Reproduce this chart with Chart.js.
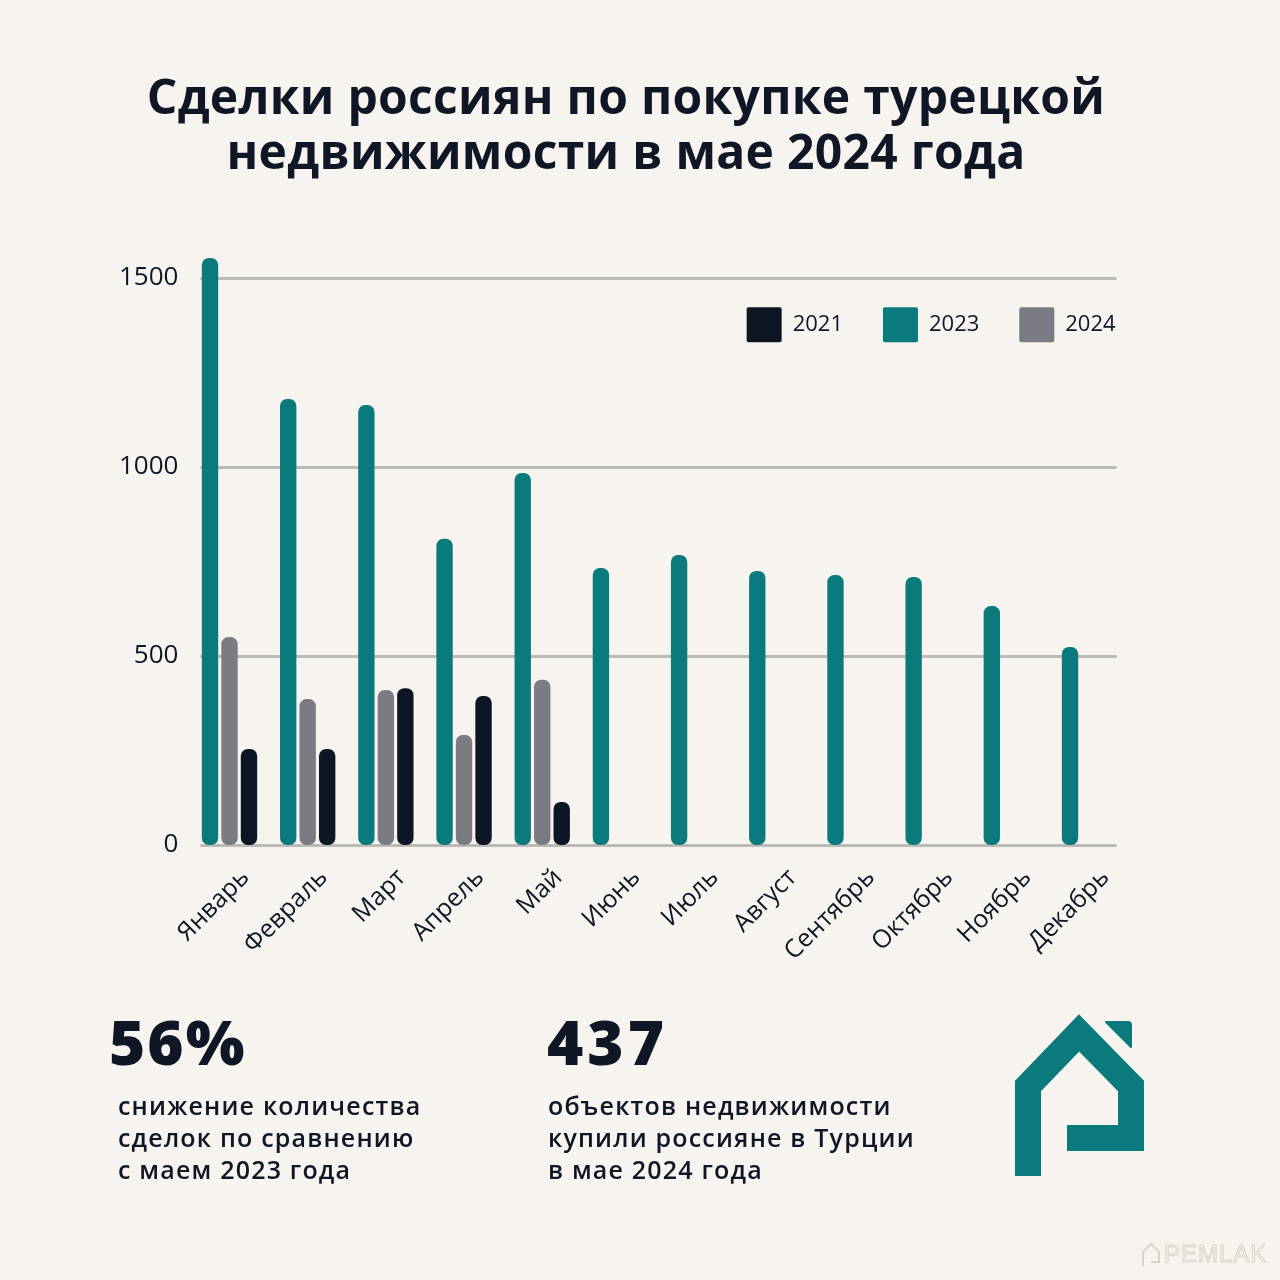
<!DOCTYPE html>
<html>
<head>
<meta charset="utf-8">
<script src="https://cdn.jsdelivr.net/npm/chart.js@4/dist/chart.umd.min.js"></script>
<style>
html,body{margin:0;padding:0;background:#f7f3ee;}
#page{position:relative;width:1280px;height:1280px;background:#f7f3ee;overflow:hidden;font-family:"Open Sans",sans-serif;color:#0f1626;}
#chartBox{position:absolute;left:0;top:0;width:1280px;height:1280px;}
.title{position:absolute;left:0;top:68px;width:1252px;text-align:center;font-weight:700;font-size:48px;line-height:55px;letter-spacing:0.3px;}
.big{position:absolute;font-weight:800;font-size:62px;line-height:62px;top:1010px;}
.body{position:absolute;font-weight:600;font-size:25px;line-height:32px;top:1089px;letter-spacing:1.2px;}
#logo{position:absolute;left:0;top:0;}
.wm{position:absolute;left:1164px;top:1240px;font-size:24px;font-weight:400;color:transparent;-webkit-text-stroke:1px #d8d3cd;letter-spacing:1px;font-family:"Liberation Sans",sans-serif;}
</style>
</head>
<body>
<div id="page">
  <div id="chartBox"><canvas id="c" width="1280" height="1280"></canvas></div>
  <div class="title">Сделки россиян по покупке турецкой<br>недвижимости в мае 2024 года</div>
  <div class="big" style="left:109px;letter-spacing:2px;">56%</div>
  <div class="body" style="left:118px;">снижение количества<br>сделок по сравнению<br>с маем 2023 года</div>
  <div class="big" style="left:547px;letter-spacing:4px;">437</div>
  <div class="body" style="left:548px;">объектов недвижимости<br>купили россияне в Турции<br>в мае 2024 года</div>
  <svg id="logo" width="1280" height="1280" viewBox="0 0 1280 1280">
    <path d="M1028 1176 L1028 1086 L1079 1033 L1131 1086 L1131 1138 L1067 1138" fill="none" stroke="#0b7a7c" stroke-width="26" stroke-linejoin="miter" stroke-linecap="butt"/>
    <path d="M1106 1022 L1128 1022 Q1131 1022 1131 1025 L1131 1047 Z" fill="#0b7a7c" stroke="#0b7a7c" stroke-width="2" stroke-linejoin="round"/>
    <path d="M1143 1266 L1143 1252 L1151 1244 L1159 1252 L1159 1262 L1151 1262" fill="none" stroke="#d8d3cd" stroke-width="2"/>
  </svg>
  <div class="wm">PEMLAK</div>
</div>
<script>
const months = ['Январь','Февраль','Март','Апрель','Май','Июнь','Июль','Август','Сентябрь','Октябрь','Ноябрь','Декабрь'];
const seriesNames = ['2023','2024','2021'];
const values2023 = [1553,1180,1164,810,984,733,767,725,714,709,632,524];
const values2024 = [550,386,410,291,437,null,null,null,null,null,null,null];
const values2021 = [254,254,415,394,114,null,null,null,null,null,null,null];
const yTickValues = [0,500,1000,1500];
const colors = {teal:'#0b7a7c', gray:'#7b7b83', dark:'#0c1524'};
const textColor = '#0f1626';

const barStyle = {borderRadius:7, borderSkipped:false, borderWidth:0, categoryPercentage:0.748, barPercentage:0.84};

const gridPlugin = {
  id:'insetGrid',
  beforeDatasetsDraw(chart){
    const {ctx, chartArea, scales:{y}} = chart;
    ctx.save();
    ctx.strokeStyle = '#bcbab7';
    ctx.lineWidth = 3;
    yTickValues.forEach(v=>{
      const py = Math.round(y.getPixelForValue(v))+0.5;
      ctx.beginPath();
      ctx.moveTo(chartArea.left+10, py);
      ctx.lineTo(chartArea.right-12, py);
      ctx.stroke();
    });
    ctx.restore();
  }
};
// move the (zero-height) top legend inside the plot area, top right
const legendPlace = {
  id:'legendPlace',
  afterLayout(chart){
    const lg = chart.legend, ca = chart.chartArea;
    if(!lg) return;
    const pad = lg.options.labels.padding;
    const w = lg.right - lg.left;
    lg.top = ca.top + 67 - pad;
    lg.bottom = lg.top + 80;
    lg.right = ca.right - 13 + pad;
    lg.left = lg.right - w;
  }
};

new Chart(document.getElementById('c'), {
  type:'bar',
  data:{
    labels: months,
    datasets:[
      Object.assign({label:seriesNames[0], data:values2023, backgroundColor:colors.teal}, barStyle),
      Object.assign({label:seriesNames[1], data:values2024, backgroundColor:colors.gray}, barStyle),
      Object.assign({label:seriesNames[2], data:values2021, backgroundColor:colors.dark}, barStyle)
    ]
  },
  plugins:[gridPlugin, legendPlace],
  options:{
    responsive:false,
    animation:false,
    devicePixelRatio:1,
    layout:{padding:{top:239.2, right:151.4, bottom:0, left:0}},
    plugins:{
      title:{display:false},
      tooltip:{enabled:false},
      legend:{
        position:'top',
        align:'end',
        maxHeight:1,
        labels:{
          boxWidth:35, boxHeight:35, padding:40, color:textColor,
          useBorderRadius:true, borderRadius:2,
          font:{family:'"Open Sans", sans-serif', size:22, weight:'400'},
          sort:(a,b)=>a.text.localeCompare(b.text)
        }
      }
    },
    scales:{
      x:{
        grid:{display:false, drawTicks:false},
        border:{display:false},
        ticks:{
          color:textColor, minRotation:45, maxRotation:45, padding:18, labelOffset:16,
          font:{family:'"Open Sans", sans-serif', size:25, weight:'500'}
        },
        afterFit(s){ s.height = 435; }
      },
      y:{
        min:0, max:1600,
        grid:{display:false, drawTicks:false},
        border:{display:false},
        afterBuildTicks(s){ s.ticks = yTickValues.map(v=>({value:v})); },
        ticks:{
          color:textColor, padding:12,
          callback:(v)=>String(v),
          font:{family:'"Open Sans", sans-serif', size:26, weight:'500'}
        },
        afterFit(s){ s.width = 190.4; }
      }
    }
  }
});
</script>
</body>
</html>
